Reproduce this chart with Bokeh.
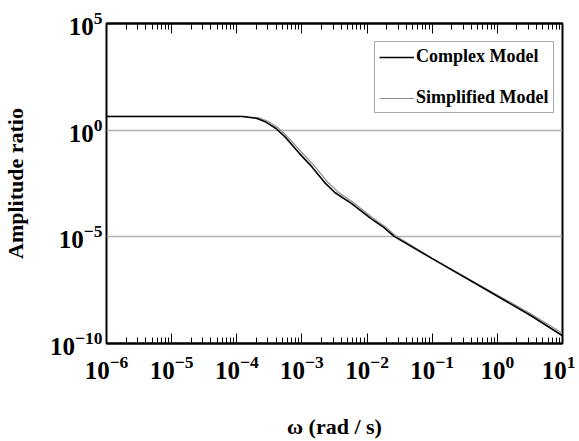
from bokeh.plotting import figure
from bokeh.models import LogAxis, FixedTicker, Legend, LegendItem, Range1d
from bokeh.embed import file_html
from bokeh.resources import INLINE

# ---- data ----
omega_complex = [1e-6, 1.2e-4, 1.5e-4, 2.0e-4, 2.8e-4, 4.0e-4, 5.6e-4, 8.9e-4, 1.45e-3,
                 2.3e-3, 3.2e-3, 5.8e-3, 1.15e-2, 1.8e-2, 2.6e-2, 0.1, 0.59, 3.3, 10]
amp_complex = [4.4, 4.4, 4.0, 3.6, 2.4, 1.2, 0.46, 8.9e-2, 1.8e-2,
               3.2e-3, 1.2e-3, 3.6e-4, 7.2e-5, 2.75e-5, 1.05e-5, 9.5e-7, 4.2e-8, 2.0e-9, 2.3e-10]

omega_simplified = [1e-6, 1.3e-4, 1.6e-4, 2.2e-4, 3.0e-4, 4.3e-4, 6.0e-4, 9.6e-4, 1.55e-3,
                    2.5e-3, 3.5e-3, 6.2e-3, 1.2e-2, 1.9e-2, 2.7e-2, 0.1, 0.59, 3.3, 10]
amp_simplified = [4.4, 4.4, 4.1, 3.8, 2.6, 1.3, 0.5, 0.1, 2.1e-2,
                  3.6e-3, 1.35e-3, 4.0e-4, 8.0e-5, 3.0e-5, 1.15e-5, 1.0e-6, 4.6e-8, 2.4e-9, 3.0e-10]

series_names = ["Complex Model", "Simplified Model"]
x_tick_exponents = [-6, -5, -4, -3, -2, -1, 0, 1]
y_tick_exponents = [5, 0, -5, -10]
grid_values = [1e-5, 1.0]
x_title = "ω (rad / s)"
y_title = "Amplitude ratio"

FONT = "Liberation Serif"

p = figure(width=575, height=441, x_axis_type="log", y_axis_type="log",
           x_range=Range1d(1e-6, 10), y_range=Range1d(1e-10, 1e5),
           output_backend="svg", toolbar_location=None,
           min_border_left=97, min_border_right=13, min_border_top=23, min_border_bottom=98,
           background_fill_color="white", border_fill_color="white")

p.outline_line_color = "black"
p.outline_line_width = 2
p.outline_line_alpha = 1.0

x_majors = [10.0 ** k for k in x_tick_exponents]
x_minors = [m * 10.0 ** k for k in x_tick_exponents[:-1] for m in range(2, 10)]
y_majors = [10.0 ** k for k in y_tick_exponents]

xa = p.xaxis[0]
xa.ticker = FixedTicker(ticks=x_majors, minor_ticks=x_minors)
top = LogAxis(ticker=FixedTicker(ticks=x_majors, minor_ticks=x_minors))
p.add_layout(top, "above")
for ax in (xa, top):
    ax.axis_line_color = "black"
    ax.axis_line_width = 2
    ax.major_tick_in = 10
    ax.major_tick_out = 0
    ax.minor_tick_in = 6
    ax.minor_tick_out = 0
    ax.major_tick_line_color = "black"
    ax.minor_tick_line_color = "black"
    ax.major_tick_line_width = 1
    ax.minor_tick_line_width = 1

top.major_label_text_font_size = "1px"
top.major_label_text_alpha = 0.0
top.major_label_standoff = 0

xa.major_label_text_font = FONT
xa.major_label_text_font_style = "bold"
xa.major_label_text_font_size = "25px"
xa.major_label_text_color = "black"
xa.major_label_standoff = 12
xa.axis_label = x_title
xa.axis_label_text_font = FONT
xa.axis_label_text_font_style = "bold"
xa.axis_label_text_font_size = "22px"
xa.axis_label_text_color = "black"
xa.axis_label_standoff = 32

ya = p.yaxis[0]
ya.ticker = FixedTicker(ticks=y_majors)
ya.axis_line_color = None
ya.major_tick_in = 0
ya.major_tick_out = 0
ya.minor_tick_in = 0
ya.minor_tick_out = 0
ya.major_label_text_font = FONT
ya.major_label_text_font_style = "bold"
ya.major_label_text_font_size = "25px"
ya.major_label_text_color = "black"
ya.major_label_standoff = 4
ya.axis_label = y_title
ya.axis_label_text_font = FONT
ya.axis_label_text_font_style = "bold"
ya.axis_label_text_font_size = "22px"
ya.axis_label_text_color = "black"
ya.axis_label_standoff = 19

p.xgrid.visible = False
p.ygrid.ticker = FixedTicker(ticks=grid_values)
p.ygrid.grid_line_color = "#b0b0b0"
p.ygrid.grid_line_width = 1.5

r_s = p.line(omega_simplified, amp_simplified, line_color="#8c8c8c", line_width=1.2)
r_c = p.line(omega_complex, amp_complex, line_color="black", line_width=1.6)

legend = Legend(items=[LegendItem(label=series_names[0], renderers=[r_c]),
                       LegendItem(label=series_names[1], renderers=[r_s])],
                location=(268, 230), padding=4, spacing=20, glyph_width=35,
                glyph_height=20, label_height=20, label_standoff=2,
                label_text_font=FONT, label_text_font_style="bold",
                label_text_font_size="18px", label_text_color="black",
                border_line_color="#555555", border_line_width=1,
                background_fill_color="white", background_fill_alpha=1.0)
p.add_layout(legend, "center")

open("out.html", "w").write(file_html(p, INLINE))
